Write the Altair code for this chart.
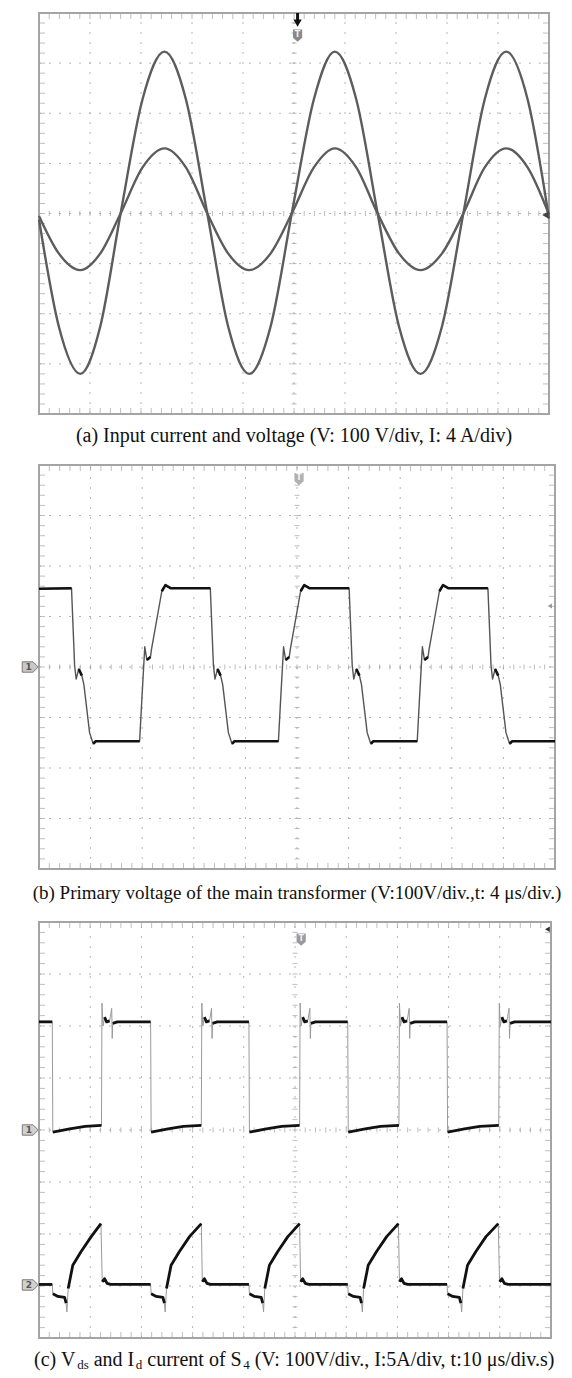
import altair as alt
import pandas as pd
import numpy as np

# ------------------------------------------------------------------ data
# panel (a): input voltage and current, in scope divisions
A_X = [0.00, 0.39, 0.81, 1.20, 1.60, 2.03, 2.46, 2.88, 3.30, 3.71, 4.12, 4.54, 4.97,
       5.39, 5.80, 6.22, 6.64, 7.06, 7.48, 7.90, 8.32, 8.74, 9.16, 9.58, 10.00]
A_VOLT = [-0.12, -2.26, -3.20, -2.26, 0.00, 2.28, 3.23, 2.28, 0.00, -2.26, -3.20, -2.26, 0.08,
          2.28, 3.23, 2.28, 0.00, -2.26, -3.20, -2.26, 0.00, 2.28, 3.23, 2.28, -0.10]
A_CURR = [-0.05, -0.80, -1.13, -0.80, 0.00, 0.92, 1.30, 0.92, 0.00, -0.80, -1.13, -0.80, 0.03,
          0.92, 1.30, 0.92, 0.00, -0.80, -1.13, -0.80, 0.00, 0.92, 1.30, 0.92, -0.02]

# panel (b): primary voltage of main transformer
B_X = [0.00,
       0.63, 0.69, 0.72, 0.77, 0.83, 0.87, 0.98, 1.05, 1.10, 1.95, 1.99, 2.05, 2.09, 2.16, 2.18, 2.38, 2.45, 2.55,
       3.32, 3.38, 3.41, 3.46, 3.52, 3.56, 3.67, 3.74, 3.79, 4.64, 4.68, 4.74, 4.78, 4.85, 4.87, 5.07, 5.14, 5.24,
       6.01, 6.07, 6.10, 6.15, 6.21, 6.25, 6.36, 6.43, 6.48, 7.33, 7.37, 7.43, 7.47, 7.54, 7.56, 7.76, 7.83, 7.93,
       8.70, 8.76, 8.79, 8.84, 8.90, 8.94, 9.05, 9.12, 9.17, 10.00]
B_V = [1.55,
       1.56, 0.03, -0.24, -0.04, -0.17, -0.35, -1.30, -1.52, -1.47, -1.47, -0.70, 0.40, 0.14, 0.20, 0.35, 1.50, 1.62, 1.56,
       1.56, 0.03, -0.24, -0.04, -0.17, -0.35, -1.30, -1.52, -1.47, -1.47, -0.70, 0.40, 0.14, 0.20, 0.35, 1.50, 1.62, 1.56,
       1.56, 0.03, -0.24, -0.04, -0.17, -0.35, -1.30, -1.52, -1.47, -1.47, -0.70, 0.40, 0.14, 0.20, 0.35, 1.50, 1.62, 1.56,
       1.56, 0.03, -0.24, -0.04, -0.17, -0.35, -1.30, -1.52, -1.47, -1.47]

# panel (c): Vds and Id of S4
C_VDS_X = [0.00, 0.26, 0.27, 0.60, 0.90, 1.22,
           1.23, 1.25, 1.28, 1.32, 1.38, 1.42, 1.43, 1.44, 1.53, 2.18,
           2.19, 2.52, 2.82, 3.17,
           3.18, 3.20, 3.23, 3.27, 3.33, 3.37, 3.38, 3.39, 3.48, 4.10,
           4.11, 4.44, 4.74, 5.09,
           5.10, 5.12, 5.15, 5.19, 5.25, 5.29, 5.30, 5.31, 5.40, 6.03,
           6.04, 6.37, 6.67, 7.03,
           7.04, 7.06, 7.09, 7.13, 7.19, 7.23, 7.24, 7.25, 7.34, 7.97,
           7.98, 8.31, 8.61, 8.98,
           8.99, 9.01, 9.04, 9.08, 9.14, 9.18, 9.19, 9.20, 9.29, 10.00]
C_VDS_Y = [2.08, 2.08, -0.04, 0.02, 0.07, 0.09,
           2.44, 2.00, 2.17, 2.08, 2.10, 2.34, 1.76, 2.05, 2.08, 2.08,
           -0.04, 0.02, 0.07, 0.09,
           2.44, 2.00, 2.17, 2.08, 2.10, 2.34, 1.76, 2.05, 2.08, 2.08,
           -0.04, 0.02, 0.07, 0.09,
           2.44, 2.00, 2.17, 2.08, 2.10, 2.34, 1.76, 2.05, 2.08, 2.08,
           -0.04, 0.02, 0.07, 0.09,
           2.44, 2.00, 2.17, 2.08, 2.10, 2.34, 1.76, 2.05, 2.08, 2.08,
           -0.04, 0.02, 0.07, 0.09,
           2.44, 2.00, 2.17, 2.08, 2.10, 2.34, 1.76, 2.05, 2.08, 2.08]
C_ID_X = [0.00, 0.26,
          0.27, 0.37, 0.50, 0.53, 0.545, 0.57, 0.66, 0.82, 1.02, 1.21,
          1.235, 1.28, 1.33, 1.40, 2.18,
          2.19, 2.29, 2.42, 2.45, 2.465, 2.49, 2.58, 2.74, 2.94, 3.17,
          3.19, 3.23, 3.28, 3.35, 4.10,
          4.11, 4.21, 4.34, 4.37, 4.385, 4.41, 4.50, 4.66, 4.86, 5.09,
          5.11, 5.15, 5.20, 5.27, 6.03,
          6.04, 6.14, 6.27, 6.30, 6.315, 6.34, 6.43, 6.59, 6.79, 7.02,
          7.04, 7.08, 7.13, 7.20, 7.97,
          7.98, 8.08, 8.21, 8.24, 8.255, 8.28, 8.37, 8.53, 8.73, 8.97,
          8.995, 9.04, 9.09, 9.16, 10.00]
C_ID_Y = [-2.97, -2.97,
          -3.15, -3.20, -3.22, -3.33, -3.50, -3.05, -2.60, -2.34, -2.05, -1.80,
          -2.92, -2.86, -2.95, -2.97, -2.97,
          -3.15, -3.20, -3.22, -3.33, -3.50, -3.05, -2.60, -2.34, -2.05, -1.80,
          -2.92, -2.86, -2.95, -2.97, -2.97,
          -3.15, -3.20, -3.22, -3.33, -3.50, -3.05, -2.60, -2.34, -2.05, -1.80,
          -2.92, -2.86, -2.95, -2.97, -2.97,
          -3.15, -3.20, -3.22, -3.33, -3.50, -3.05, -2.60, -2.34, -2.05, -1.80,
          -2.92, -2.86, -2.95, -2.97, -2.97,
          -3.15, -3.20, -3.22, -3.33, -3.50, -3.05, -2.60, -2.34, -2.05, -1.80,
          -2.92, -2.86, -2.95, -2.97, -2.97]

GRID_X = [1, 2, 3, 4, 5, 6, 7, 8, 9]
GRID_Y = [-3, -2, -1, 0, 1, 2, 3]

CAP_A = "(a) Input current and voltage (V: 100 V/div, I: 4 A/div)"
CAP_B = "(b) Primary voltage of the main transformer (V:100V/div.,t: 4 \u03bcs/div.)"
CAP_C = [("(c) V", False), ("ds", True), (" and I", False), ("d", True),
         (" current of S", False), ("4", True),
         (" (V: 100V/div., I:5A/div, t:10 \u03bcs/div.s)", False)]

# ------------------------------------------------------------------ style
FONT = "Liberation Serif"
CAP_SIZE = 20
CAP_SIZE_B = 19
SUB_SIZE = 13
GRID_C = "#b4b4b4"
TICK_C = "#a0a0a0"
FRAME_C = "#a4a4a4"

XS = alt.Scale(domain=[0, 10], nice=False, zero=False)
YS = alt.Scale(domain=[-4, 4], nice=False, zero=False)

TAG = "M -1 -0.65 L 0.35 -0.65 L 1 0 L 0.35 0.65 L -1 0.65 Z"
SHIELD = "M -0.75 -1 L 0.75 -1 L 0.75 0.35 L 0 1 L -0.75 0.35 Z"


def X(f):
    return alt.X(f, scale=XS, axis=None)


def Y(f):
    return alt.Y(f, scale=YS, axis=None)


def scope_layers():
    one = pd.DataFrame({"k": [0]})
    gx = pd.DataFrame({"gx": GRID_X})
    gy = pd.DataFrame({"gy": GRID_Y})
    tx = pd.DataFrame({"t": np.round(np.arange(0.2, 9.99, 0.2), 2)})
    ty = pd.DataFrame({"t": np.round(np.arange(-3.8, 3.99, 0.2), 2)})
    xd = lambda v: alt.XDatum(v, scale=XS, axis=None)
    yd = lambda v: alt.YDatum(v, scale=YS, axis=None)
    layers = [
        alt.Chart(gx).mark_rule(color=GRID_C, strokeWidth=1, strokeDash=[2, 8]).encode(
            x=X("gx:Q"), y=yd(-4), y2=alt.Y2Datum(4)),
        alt.Chart(gy).mark_rule(color=GRID_C, strokeWidth=1, strokeDash=[2, 8]).encode(
            y=Y("gy:Q"), x=xd(0), x2=alt.X2Datum(10)),
        alt.Chart(tx).mark_tick(orient="vertical", size=5, thickness=1, color=TICK_C).encode(
            x=X("t:Q"), y=yd(0)),
        alt.Chart(ty).mark_tick(orient="horizontal", size=5, thickness=1, color=TICK_C).encode(
            y=Y("t:Q"), x=xd(5)),
        alt.Chart(tx).mark_tick(orient="vertical", size=6, thickness=1, color=FRAME_C, yOffset=3).encode(
            x=X("t:Q"), y=yd(4)),
        alt.Chart(tx).mark_tick(orient="vertical", size=6, thickness=1, color=FRAME_C, yOffset=-3).encode(
            x=X("t:Q"), y=yd(-4)),
        alt.Chart(ty).mark_tick(orient="horizontal", size=6, thickness=1, color=FRAME_C, xOffset=3).encode(
            y=Y("t:Q"), x=xd(0)),
        alt.Chart(ty).mark_tick(orient="horizontal", size=6, thickness=1, color=FRAME_C, xOffset=-3).encode(
            y=Y("t:Q"), x=xd(10)),
        alt.Chart(one).mark_rect(fill="white", fillOpacity=0, stroke=FRAME_C, strokeWidth=2).encode(
            x=xd(0), x2=alt.X2Datum(10), y=yd(-4), y2=alt.Y2Datum(4)),
    ]
    return layers


def trace(xs, ys, base_color, base_w, thick_color=None, thick_w=0, thr=8.0, interp="linear"):
    df = pd.DataFrame({"x": xs, "y": ys})
    df["i"] = np.arange(len(df))
    layers = [alt.Chart(df).mark_line(color=base_color, strokeWidth=base_w, interpolate=interp,
                                      strokeJoin="round").encode(
        x=X("x:Q"), y=Y("y:Q"), order="i:Q")]
    if thick_color:
        g, groups = 0, []
        for k in range(len(xs)):
            if k > 0:
                dx = xs[k] - xs[k - 1]
                dy = abs(ys[k] - ys[k - 1])
                if dx <= 0 or dy / dx > thr:
                    g += 1
            groups.append(g)
        df2 = df.copy()
        df2["g"] = groups
        layers.append(alt.Chart(df2).mark_line(color=thick_color, strokeWidth=thick_w,
                                               strokeJoin="round").encode(
            x=X("x:Q"), y=Y("y:Q"), detail="g:N", order="i:Q"))
    return layers


def point(x, y, shape, size, color, stroke=None, sw=0, filled=True):
    df = pd.DataFrame({"x": [x], "y": [y]})
    kw = dict(shape=shape, size=size, filled=filled, color=color, opacity=1)
    if stroke:
        kw.update(stroke=stroke, strokeWidth=sw)
    return alt.Chart(df).mark_point(**kw).encode(x=X("x:Q"), y=Y("y:Q"))


def label(x, y, txt, size, color, weight="bold"):
    df = pd.DataFrame({"x": [x], "y": [y]})
    return alt.Chart(df).mark_text(text=txt, fontSize=size, fontWeight=weight, color=color,
                                   font="DejaVu Sans", align="center", baseline="middle").encode(
        x=X("x:Q"), y=Y("y:Q"))


def cap_title(text, offset, size):
    return alt.TitleParams(text, orient="bottom", anchor="middle", font=FONT, fontSize=size,
                           fontWeight="normal", color="#111111", offset=offset)


# ------------------------------------------------------------------ panel (a)
WA, HA = 510, 401
stem_df = pd.DataFrame({"x": [5.07], "y": [4.0], "y2": [3.86]})
pa_layers = scope_layers() + trace(A_X, A_VOLT, "#5c5c5c", 2.4, interp="monotone") + \
    trace(A_X, A_CURR, "#5c5c5c", 2.4, interp="monotone") + [
    alt.Chart(stem_df).mark_rule(color="#111", strokeWidth=3).encode(x=X("x:Q"), y=Y("y:Q"), y2="y2:Q"),
    point(5.07, 3.80, "triangle-down", 70, "#111"),
    point(5.07, 3.55, SHIELD, 150, "#8a8a8a"),
    label(5.07, 3.57, "T", 8, "#eeeeee"),
    point(9.93, -0.03, "triangle-left", 55, "#444"),
]
panel_a = alt.layer(*pa_layers).properties(width=WA, height=HA, title=cap_title(CAP_A, 11, CAP_SIZE))

# ------------------------------------------------------------------ panel (b)
WB, HB = 516, 404
pb_layers = scope_layers() + trace(B_X, B_V, "#555555", 1.4, "#111111", 2.6, thr=3.0) + [
    point(5.04, 3.72, SHIELD, 150, "#b0b0b0"),
    label(5.04, 3.74, "T", 8, "#f4f4f4"),
    point(9.9, 1.21, "triangle-left", 25, "#999"),
    point(-0.17, 0.0, TAG, 256, "#c8c8c8", "#7a7a7a", 1),
    label(-0.2, 0.0, "1", 9, "#555555"),
]
panel_b = alt.layer(*pb_layers).properties(width=WB, height=HB, title=cap_title(CAP_B, 14, CAP_SIZE_B))

# ------------------------------------------------------------------ panel (c)
WC, HC = 512, 416
TW = {' ': 250, '(': 333, ')': 333, 'a': 444, 'b': 500, 'c': 444, 'd': 500, 'e': 444, 'f': 333,
      'g': 500, 'h': 500, 'i': 278, 'l': 278, 'm': 778, 'n': 500, 'o': 500, 'p': 500, 'r': 333,
      's': 389, 't': 278, 'u': 500, 'v': 500, 'y': 500, 'A': 722, 'I': 333, 'S': 556, 'V': 722,
      '0': 500, '1': 500, '4': 500, '5': 500, ':': 278, '.': 250, ',': 250, '/': 278, '\u03bc': 540}


def twidth(s, size):
    return sum(TW.get(ch, 500) for ch in s) * size / 1000.0


SUB_GAP = 1.5
total = sum(twidth(s, SUB_SIZE if sub else CAP_SIZE) + (SUB_GAP if sub else 0) for s, sub in CAP_C)
px = WC / 2.0 + 2 - total / 2.0
cap_layers = []
for s, sub in CAP_C:
    fs = SUB_SIZE if sub else CAP_SIZE
    stripped = s.lstrip(" ")
    lead = twidth(s[:len(s) - len(stripped)], fs)
    cap_layers.append(
        alt.Chart(pd.DataFrame({"k": [0]})).mark_text(
            text=stripped, font=FONT, fontSize=fs, align="left", baseline="alphabetic", color="#111111"
        ).encode(x=alt.value(px + lead + (SUB_GAP if sub else 0)), y=alt.value(HC + (31 if sub else 28)))
    )
    px += twidth(s, fs) + (SUB_GAP if sub else 0)

pc_layers = scope_layers() + \
    trace(C_VDS_X, C_VDS_Y, "#9a9a9a", 1.0, "#111111", 2.8, thr=5.0) + \
    trace(C_ID_X, C_ID_Y, "#9a9a9a", 1.0, "#111111", 2.8, thr=5.5) + [
    point(5.12, 3.66, SHIELD, 150, "#9a9a9a"),
    label(5.12, 3.68, "T", 8, "#f0f0f0"),
    point(9.93, 3.86, "triangle-left", 30, "#333"),
    point(-0.17, 0.0, TAG, 256, "#d0d0d0", "#7a7a7a", 1),
    label(-0.2, 0.0, "1", 9, "#555555"),
    point(-0.17, -2.98, TAG, 256, "#d0d0d0", "#7a7a7a", 1),
    label(-0.2, -2.98, "2", 9, "#555555"),
] + cap_layers
panel_c = alt.layer(*pc_layers).properties(width=WC, height=HC)

chart = alt.vconcat(panel_a, panel_b, panel_c, spacing=18).properties(
    padding={"left": 12, "top": 3, "right": 0, "bottom": 0},
    background="white",
).configure_view(stroke=None)

chart.save("out.html", embed_options={"renderer": "svg", "actions": False})
